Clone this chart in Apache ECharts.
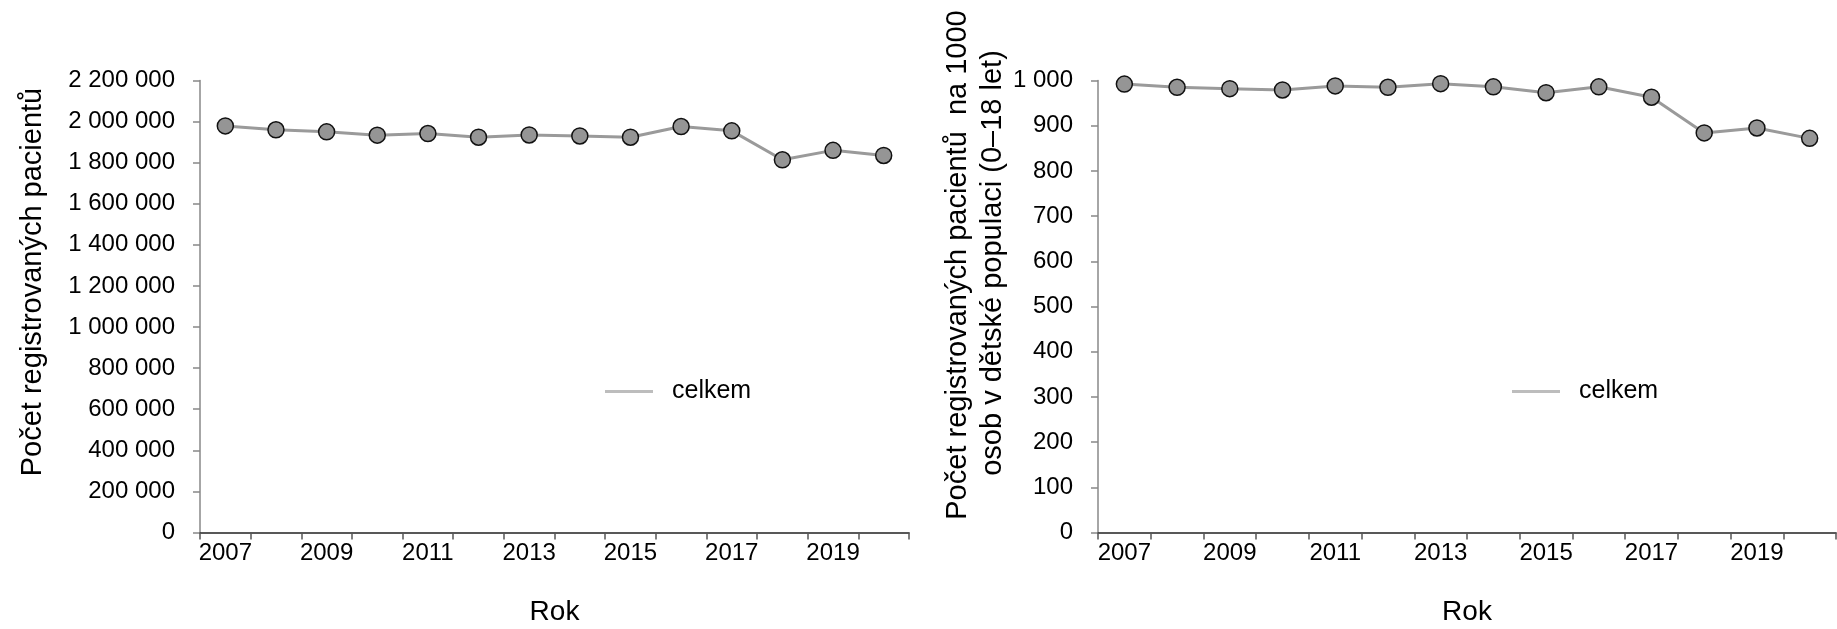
<!DOCTYPE html>
<html><head><meta charset="utf-8">
<script src="https://cdn.jsdelivr.net/npm/echarts@6/dist/echarts.min.js"></script>
<style>html,body{margin:0;padding:0;background:#fff}#c{width:1837px;height:629px}</style>
</head><body><div id="c"></div>
<script>
const years = ['2007','2008','2009','2010','2011','2012','2013','2014','2015','2016','2017','2018','2019','2020'];
const patients = [1979000, 1960000, 1950000, 1934000, 1942000, 1924000, 1935000, 1930000, 1924000, 1976000, 1955000, 1814000, 1860000, 1835000];
const perThousand = [992, 985, 982, 979, 988, 985, 993, 986, 973, 986, 963, 884, 895, 872];
const seriesName = 'celkem';
const leftTitle = 'Počet registrovaných pacientů';
const rightTitle1 = 'Počet registrovaných pacientů  na 1000';
const rightTitle2 = 'osob v dětské populaci (0–18 let)';
const xTitle = 'Rok';

const FONT = 'Liberation Sans, Arial, sans-serif';
const fmt = v => String(v).replace(/\B(?=(\d{3})+(?!\d))/g, ' ');

function xAxis(gi) {
  return {
    type: 'category', gridIndex: gi, data: years, boundaryGap: true,
    name: xTitle, nameLocation: 'middle', nameGap: 66,
    nameTextStyle: {fontFamily: FONT, fontSize: 28, color: '#000'},
    axisLine: {lineStyle: {color: '#222', width: 1.5}},
    axisTick: {show: true, length: 7, interval: 0, alignWithLabel: false, lineStyle: {color: '#555', width: 1.5}},
    axisLabel: {interval: 1, margin: 9, fontFamily: FONT, fontSize: 24, color: '#000'},
    splitLine: {show: false}
  };
}
function yAxis(gi, max, interval) {
  return {
    type: 'value', gridIndex: gi, min: 0, max: max, interval: interval,
    axisLine: {show: true, lineStyle: {color: '#888', width: 1.5}},
    axisTick: {show: true, length: 7, lineStyle: {color: '#888', width: 1.5}},
    axisLabel: {margin: 25, fontFamily: FONT, fontSize: 24, color: '#000', formatter: fmt},
    splitLine: {show: false}
  };
}
function series(xi, data) {
  return {
    name: seriesName, type: 'line', xAxisIndex: xi, yAxisIndex: xi, data: data,
    symbol: 'circle', symbolSize: 16,
    lineStyle: {color: '#9a9a9a', width: 3},
    itemStyle: {color: '#959595', borderColor: '#111', borderWidth: 1.5},
    emphasis: {disabled: true}, animation: false
  };
}
function legend(left) {
  return {
    data: [seriesName], left: left, top: 374, icon: 'rect', itemWidth: 48, itemHeight: 3,
    itemStyle: {color: '#bdbdbd', borderWidth: 0},
    textStyle: {fontFamily: FONT, fontSize: 25, color: '#000', padding: [0, 0, 0, 14]}
  };
}

const chart = echarts.init(document.getElementById('c'));
chart.setOption({
  backgroundColor: '#fff',
  animation: false,
  grid: [
    {left: 200, top: 80.5, width: 709, height: 452, containLabel: false, outerBoundsMode: 'none'},
    {left: 1098, top: 80.5, width: 738, height: 452, containLabel: false, outerBoundsMode: 'none'}
  ],
  xAxis: [xAxis(0), xAxis(1)],
  yAxis: [yAxis(0, 2200000, 200000), yAxis(1, 1000, 100)],
  series: [series(0, patients), series(1, perThousand)],
  legend: [legend(600), legend(1507)],
  graphic: [
    {type: 'text', x: 33, y: 282, rotation: Math.PI / 2,
     style: {text: leftTitle, font: '29px ' + FONT, fill: '#000', textAlign: 'center', textVerticalAlign: 'middle'}},
    {type: 'text', x: 958, y: 265, rotation: Math.PI / 2,
     style: {text: rightTitle1, font: '29px ' + FONT, fill: '#000', textAlign: 'center', textVerticalAlign: 'middle'}},
    {type: 'text', x: 993, y: 263, rotation: Math.PI / 2,
     style: {text: rightTitle2, font: '29px ' + FONT, fill: '#000', textAlign: 'center', textVerticalAlign: 'middle'}}
  ]
});
</script></body></html>
